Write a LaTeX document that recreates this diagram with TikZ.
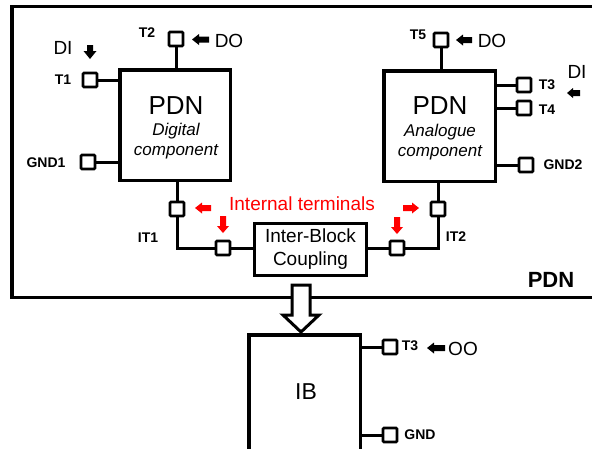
\documentclass[tikz,border=0pt]{standalone}
\usepackage{fontspec}
\setmainfont{Liberation Sans}
\begin{document}
\begin{tikzpicture}[x=1pt,y=-1pt,
  term/.style={draw,line width=2.8pt,minimum size=14pt,inner sep=0pt,rounded corners=1pt,fill=white},
  blk/.style={draw,line width=3.5pt,inner sep=0pt},
  wire/.style={line width=3pt},
  tlab/.style={font=\bfseries\fontsize{14}{15}\selectfont,inner sep=0pt},
  sig/.style={font=\fontsize{19}{21}\selectfont,inner sep=0pt},
  barrow/.style={fill=black,draw=none},
  rarrow/.style={fill=red,draw=none}]
\useasboundingbox (0,0) rectangle (592,448);
% outer PDN box
\draw[line width=3.5pt] (12,6.5) rectangle (610,297.5);
\node[font=\bfseries\fontsize{22}{24}\selectfont,inner sep=0pt] (pdnlab) at (551,280) {PDN};
% digital block
\node[blk,minimum width=110.5pt,minimum height=110.5pt] (dig) at (175,125) {};
\node[font=\fontsize{26}{28}\selectfont,inner sep=0pt] (digt) at (176,106) {PDN};
\node[font=\itshape\fontsize{17}{20}\selectfont,align=center,inner sep=0pt] (digs) at (176,141) {Digital\\component};
% analog block
\node[blk,minimum width=111.5pt,minimum height=110.5pt] (ana) at (439.5,126) {};
\node[font=\fontsize{26}{28}\selectfont,inner sep=0pt] (anat) at (440,106) {PDN};
\node[font=\itshape\fontsize{17}{20}\selectfont,align=center,inner sep=0pt] (anas) at (440,142) {Analogue\\component};
% inter-block coupling
\node[blk,line width=3pt,minimum width=112pt,minimum height=52pt,font=\fontsize{19}{23}\selectfont,align=center] (ibc) at (310.5,249.5) {Inter-Block\\Coupling};
% IB block
\node[blk,line width=3.5pt,minimum width=111.5pt,minimum height=140pt] (ib) at (304.5,404.75) {};
\node[font=\fontsize{23}{25}\selectfont,inner sep=0pt] (ibt) at (306,392) {IB};
% terminals digital
\node[term] (t2) at (176,39) {};
\node[term] (t1) at (90,80) {};
\node[term] (gnd1) at (88,162) {};
\draw[wire] (t2.south) -- (t2|-dig.north);
\draw[wire] (t1.east) -- (t1-|dig.west);
\draw[wire] (gnd1.east) -- (gnd1-|dig.west);
\node[tlab] (t2l) at (147,33) {T2};
\node[tlab] (t1l) at (63,80) {T1};
\node[tlab] (gnd1l) at (46,163) {GND1};
\node[sig] (di1) at (63,48) {DI};
\node[sig] (do1) at (229,41) {DO};
\fill[barrow] (87,45) -- ++(6,0) -- ++(0,6) -- ++(3.5,0) -- (90,59) -- (83.5,51) -- ++(3.5,0) -- cycle;
\fill[barrow] (192,39.5) -- ++(7,-5.5) -- ++(0,2.5) -- ++(10,0) -- ++(0,6) -- ++(-10,0) -- ++(0,2.5) -- cycle;
% terminals analog
\node[term] (t5) at (441,40) {};
\node[term] (t3) at (524,85) {};
\node[term] (t4) at (524,108) {};
\node[term] (gnd2) at (526,165) {};
\draw[wire] (t5.south) -- (t5|-ana.north);
\draw[wire] (t3.west) -- (t3-|ana.east);
\draw[wire] (t4.west) -- (t4-|ana.east);
\draw[wire] (gnd2.west) -- (gnd2-|ana.east);
\node[tlab] (t5l) at (418,35) {T5};
\node[tlab] (t3l) at (547,85) {T3};
\node[tlab] (t4l) at (547,110) {T4};
\node[tlab] (gnd2l) at (563,165) {GND2};
\node[sig] (di2) at (577,72) {DI};
\node[sig] (do2) at (492,41) {DO};
\fill[barrow] (456,40) -- ++(7,-5.5) -- ++(0,2.5) -- ++(9,0) -- ++(0,6) -- ++(-9,0) -- ++(0,2.5) -- cycle;
\fill[barrow] (567,93) -- ++(6,-5) -- ++(0,2) -- ++(7,0) -- ++(0,6) -- ++(-7,0) -- ++(0,2) -- cycle;
% internal terminals
\node[term] (it1) at (177,209) {};
\node[term] (it1b) at (223,248) {};
\node[term] (it2) at (438,209) {};
\node[term] (it2b) at (397,248) {};
\draw[wire] (it1.north) -- (it1|-dig.south);
\draw[wire] (it2.north) -- (it2|-ana.south);
\draw[wire] (it1.south) |- (it1b.west);
\draw[wire] (it1b.east) -- (it1b-|ibc.west);
\draw[wire] (it2.south) |- (it2b.east);
\draw[wire] (it2b.west) -- (it2b-|ibc.east);
\node[tlab] (it1l) at (148,238) {IT1};
\node[tlab] (it2l) at (456,237) {IT2};
\node[sig,text=red] (intl) at (302,204) {Internal terminals};
\fill[rarrow] (195,208) -- ++(7,-5.5) -- ++(0,2.5) -- ++(9,0) -- ++(0,6) -- ++(-9,0) -- ++(0,2.5) -- cycle;
\fill[rarrow] (419,208) -- ++(-7,-5.5) -- ++(0,2.5) -- ++(-9,0) -- ++(0,6) -- ++(9,0) -- ++(0,2.5) -- cycle;
\fill[rarrow] (223,233) -- ++(-6,-7) -- ++(3,0) -- ++(0,-10) -- ++(6,0) -- ++(0,10) -- ++(3,0) -- cycle;
\fill[rarrow] (397,234) -- ++(-6,-7) -- ++(3,0) -- ++(0,-10) -- ++(6,0) -- ++(0,10) -- ++(3,0) -- cycle;
% hollow arrow
\draw[line width=3pt,fill=white,line join=miter] (292,285) -- (310,285) -- (310,315) -- (319,315) -- (301,332) -- (283,315) -- (292,315) -- cycle;
% IB terminals
\node[term] (t3b) at (390,347) {};
\node[term] (gndb) at (390,435) {};
\draw[wire] (t3b.west) -- (t3b-|ib.east);
\draw[wire] (gndb.west) -- (gndb-|ib.east);
\node[tlab] (t3bl) at (410,346) {T3};
\node[tlab] (gndbl) at (420,435) {GND};
\node[sig] (oo) at (463,349) {OO};
\fill[barrow] (427,348) -- ++(7,-5.5) -- ++(0,2.5) -- ++(11,0) -- ++(0,6) -- ++(-11,0) -- ++(0,2.5) -- cycle;
\end{tikzpicture}
\end{document}
